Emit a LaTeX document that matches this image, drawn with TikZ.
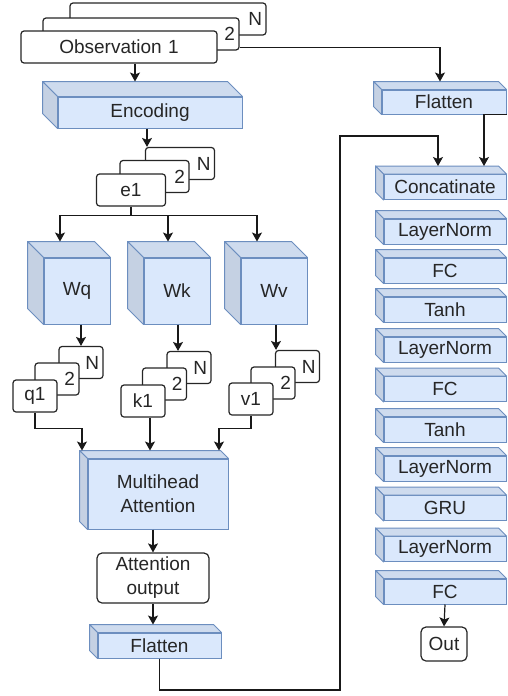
\documentclass[tikz,border=0pt]{standalone}
\usepackage{fontspec}
\setmainfont{Liberation Sans}
\usepackage{tikz}
\usetikzlibrary{arrows.meta,calc,positioning}

\definecolor{cubefill}{HTML}{DAE8FC}
\definecolor{cubeline}{HTML}{6C8EBF}
\definecolor{cubetopc}{HTML}{CEDBEE}
\definecolor{cubeleftc}{HTML}{C5D1E3}

\tikzset{
	cube/.style={draw=cubeline, fill=cubefill, line width=1pt, inner sep=0pt, align=center},
	stk/.style={draw=black!85, fill=white, rounded corners=3pt, line width=1.2pt, inner xsep=4pt, inner ysep=0pt, align=right, minimum height=32pt},
	txtbox/.style={draw=black!85, fill=white, rounded corners=5pt, line width=1.2pt, inner sep=2pt, align=center},
	arr/.style={draw=black!90, line width=1.2pt, -{Stealth[length=9pt,width=10pt,inset=2pt]}},
}

% top and left faces of a block
\newcommand{\cubesides}[2]{%
	\filldraw[draw=cubeline, fill=cubetopc, line width=1pt, line join=round] (#1.north west) -- ++(-#2,-#2) -- ($(#1.north east)+(-#2,-#2)$) -- (#1.north east) -- cycle;
	\filldraw[draw=cubeline, fill=cubeleftc, line width=1pt, line join=round] (#1.north west) -- ++(-#2,-#2) -- ($(#1.south west)+(-#2,-#2)$) -- (#1.south west) -- cycle;}

\begin{document}
\begin{tikzpicture}[x=1pt,y=-1pt, every node/.style={font=\fontsize{19}{24}\selectfont, text=black!85}]
		\useasboundingbox (0,0) rectangle (508,696);
		
		% observations
		\node[stk, text width=188pt] (obsN) at (168,19) {N};
		\node[stk, text width=188pt] (obs2) at (141,34) {2};
		\node[stk, text width=188pt, align=center] (obs1) at (119,47) {Observation 1};
		
		\node[cube, minimum width=184pt, minimum height=31pt] (enc) at (150,112.5) {Encoding};
		\cubesides{enc}{15}
		
		\node[stk, text width=61pt] (eN) at (180,163.5) {N};
		\node[stk, text width=61pt] (e2) at (154.5,176.5) {2};
		\node[stk, text width=61pt, align=center] (e1) at (131,190) {e1};
		
		% weights
		\node[cube, minimum width=66pt, minimum height=66pt] (wq) at (77,291) {Wq};
		\cubesides{wq}{16}
		\node[cube, minimum width=66pt, minimum height=66pt] (wk) at (177,291) {Wk};
		\cubesides{wk}{16}
		\node[cube, minimum width=66pt, minimum height=66pt] (wv) at (274,291) {Wv};
		\cubesides{wv}{16}
		
		\node[stk, text width=36pt] (qN) at (81,362.5) {N};
		\node[stk, text width=36pt] (q2) at (57,379) {2};
		\node[stk, text width=36pt, align=center] (q1) at (35,396) {q1};
		
		\node[stk, text width=36pt] (kN) at (189,367.5) {N};
		\node[stk, text width=36pt] (k2) at (164.5,384) {2};
		\node[stk, text width=36pt, align=center] (k1) at (143,401) {k1};
		
		\node[stk, text width=36pt] (vN) at (297.5,366.5) {N};
		\node[stk, text width=36pt] (v2) at (273,383) {2};
		\node[stk, text width=36pt, align=center] (v1) at (251,399) {v1};
		
		% attention
		\node[cube, minimum width=140pt, minimum height=70pt] (mha) at (158,494) {Multihead\\Attention};
		\cubesides{mha}{8}
		\node[txtbox, minimum width=112pt, minimum height=50pt] (att) at (153,578) {Attention\\output};
		\node[cube, minimum width=123pt, minimum height=25pt] (flat1) at (159.5,645.5) {Flatten};
		\cubesides{flat1}{8}
		
		% right column
		\node[cube, minimum width=124pt, minimum height=24pt] (flat2) at (444,102) {Flatten};
		\cubesides{flat2}{8}
		\node[cube, minimum width=122pt, minimum height=25pt] (concat) at (445,187) {Concatinate};
		\cubesides{concat}{8}
		\node[cube, minimum width=122pt, minimum height=25pt] (ln1) at (445,231.5) {LayerNorm};
		\cubesides{ln1}{8}
		\node[cube, minimum width=122pt, minimum height=25pt] (fc1) at (445,270.5) {FC};
		\cubesides{fc1}{8}
		\node[cube, minimum width=122pt, minimum height=25pt] (tanh1) at (445,309.5) {Tanh};
		\cubesides{tanh1}{8}
		\node[cube, minimum width=122pt, minimum height=25pt] (ln2) at (445,349.5) {LayerNorm};
		\cubesides{ln2}{8}
		\node[cube, minimum width=122pt, minimum height=25pt] (fc2) at (445,389) {FC};
		\cubesides{fc2}{8}
		\node[cube, minimum width=122pt, minimum height=25pt] (tanh2) at (445,429.5) {Tanh};
		\cubesides{tanh2}{8}
		\node[cube, minimum width=122pt, minimum height=25pt] (ln3) at (445,468.5) {LayerNorm};
		\cubesides{ln3}{8}
		\node[cube, minimum width=122pt, minimum height=25pt] (gru) at (445,508) {GRU};
		\cubesides{gru}{8}
		\node[cube, minimum width=122pt, minimum height=25pt] (ln4) at (445,549) {LayerNorm};
		\cubesides{ln4}{8}
		\node[cube, minimum width=122pt, minimum height=25pt] (fc3) at (445,591.5) {FC};
		\cubesides{fc3}{8}
		\node[txtbox, minimum width=46pt, minimum height=34pt] (out) at (444,644) {Out};
		
		% connections
		\draw[arr, shorten >=15pt] ([xshift=16pt]obs1.south) -- ([xshift=16pt]obs1.south |- enc.north);
		\draw[arr, shorten >=8pt] ([yshift=3pt]obs2.south east) -| ([xshift=-4pt]flat2.north);
		\draw[arr] ([xshift=-3pt]enc.south) -- ([xshift=-3pt]enc.south |- eN.north);
		
		\coordinate (esplit) at ([yshift=-9pt]e1.south);
		\draw[line width=1.2pt, draw=black!90] (e1.south) -- (esplit);
		\draw[arr, shorten >=16pt] (esplit) -| ([xshift=-17pt]wq.north);
		\draw[arr, shorten >=16pt] (esplit) -| ([xshift=-9pt]wk.north);
		\draw[arr, shorten >=16pt] (esplit) -| ([xshift=-17pt]wv.north);
		
		\draw[arr] (qN.north |- wq.south) -- (qN.north);
		\draw[arr] ([xshift=1pt]wk.south) -- ([xshift=1pt]wk.south |- kN.north);
		\draw[arr] ([xshift=2pt]wv.south) -- ([xshift=2pt]wv.south |- vN.north);
		
		\draw[arr, shorten >=8pt] (q1.south) -- ++(0,16) -| ([xshift=-76pt]mha.north);
		\draw[arr, shorten >=8pt] ([xshift=7pt]k1.south) -- ([xshift=7pt]k1.south |- mha.north);
		\draw[arr, shorten >=8pt] (v1.south) -- ++(0,13) -| ([xshift=61pt]mha.north);
		
		\draw[arr] (att.north |- mha.south) -- (att.north);
		\draw[arr, shorten >=8pt] (att.south) -- (att.south |- flat1.north);
		
		\coordinate (lowbend) at (340,690);
		\coordinate (highbend) at (340,136);
		\draw[arr, shorten >=8pt] (flat1.south) |- (lowbend) -- (highbend) -| ([xshift=-7pt]concat.north);
		\draw[arr, shorten >=8pt] (flat2.south east) -| ([xshift=39pt]concat.north);
		\draw[arr] (fc3.south) -- (out.north);
		
	\end{tikzpicture}
\end{document}
